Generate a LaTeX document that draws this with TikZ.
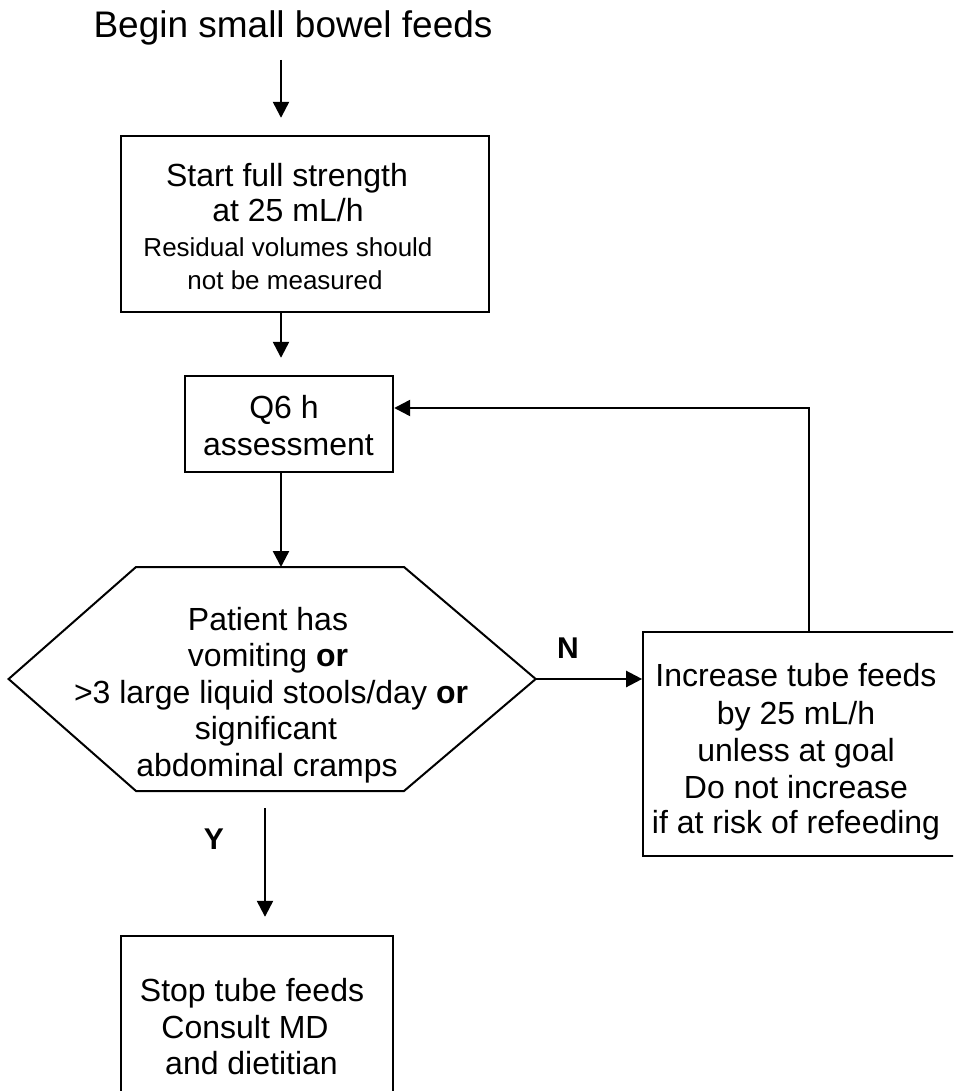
\documentclass[tikz,border=0pt]{standalone}
\usepackage{fontspec}
\setmainfont{Liberation Sans}
\usetikzlibrary{arrows.meta}
\begin{document}
\begin{tikzpicture}[x=1pt,y=-1pt,
  box/.style={draw, line width=2.4pt, inner sep=0pt},
  txt/.style={inner sep=0pt, anchor=base, font=\fontsize{32}{38}\selectfont},
  smalltxt/.style={inner sep=0pt, anchor=base, font=\fontsize{26}{33}\selectfont},
  titletxt/.style={inner sep=0pt, anchor=base, font=\fontsize{37}{43}\selectfont},
  lbl/.style={inner sep=0pt, anchor=base, font=\fontsize{30}{36}\selectfont\bfseries},
  arr/.style={line width=2.4pt, -{Triangle[width=16pt,length=16pt]}},
]
\useasboundingbox (0,0) rectangle (953,1091);
\clip (0,0) rectangle (953,1091);

% title
\node[titletxt] (title) at (293,38) {Begin small bowel feeds};

% boxes
\node[box, minimum width=368pt, minimum height=176pt] (box1) at (305,224) {};
\node[box, minimum width=208pt, minimum height=96pt] (q6) at (289,424) {};
\node[box, line width=1.7pt, minimum width=322pt, minimum height=224pt] (rbox) at (804,744) {};
\node[box, minimum width=272pt, minimum height=174pt] (bbox) at (257,1023) {};

% hexagon
\coordinate (hL) at (8.6,679);
\coordinate (hTL) at (136,567);
\coordinate (hTR) at (404,567);
\coordinate (hR) at (535.7,679);
\coordinate (hBR) at (404,791);
\coordinate (hBL) at (136,791);
\draw[line width=2pt, line join=miter] (hL) -- (hTL) -- (hTR) -- (hR) -- (hBR) -- (hBL) -- cycle;

% texts
\node[txt] (t1a) at (287,187) {Start full strength};
\node[txt] (t1b) at (288,222) {at 25 mL/h};
\node[smalltxt] (t1c) at (288,256) {Residual volumes should};
\node[smalltxt] (t1d) at (285,289) {not be measured};

\node[txt] (q6a) at (284,418) {Q6 h};
\node[txt] (q6b) at (288.5,455) {assessment};

\node[txt] (h1) at (268,630) {Patient has};
\node[txt] (h2) at (268,666.5) {vomiting \textbf{or}};
\node[txt] (h3) at (271,703) {>3 large liquid stools/day \textbf{or}};
\node[txt] (h4) at (266,739.5) {significant};
\node[txt] (h5) at (267,776) {abdominal cramps};

\node[txt] (r1) at (796,686) {Increase tube feeds};
\node[txt] (r2) at (796,724) {by 25 mL/h};
\node[txt] (r3) at (796,761) {unless at goal};
\node[txt] (r4) at (796,798) {Do not increase};
\node[txt] (r5) at (796,833) {if at risk of refeeding};

\node[txt] (b1) at (252,1001) {Stop tube feeds};
\node[txt] (b2) at (245,1038) {Consult MD};
\node[txt] (b3) at (251.5,1074) {and dietitian};

\node[lbl] (nlbl) at (568,658) {N};
\node[lbl] (ylbl) at (214,849) {Y};

% connectors
\coordinate (s1) at (281,60);
\coordinate (fb) at (809,408);
\coordinate (ys) at (265,808);
\draw[arr, shorten >=17pt] (s1) -- (s1 |- box1.north);
\draw[arr, shorten >=17pt] (s1 |- box1.south) -- (s1 |- q6.north);
\draw[arr] (s1 |- q6.south) -- (s1 |- hTL);
\draw[arr] (hR) -- (rbox.west |- hR);
\draw[arr] (fb |- rbox.north) -- (fb) -- (q6.east |- fb);
\draw[arr, shorten >=18pt] (ys) -- (ys |- bbox.north);
\end{tikzpicture}
\end{document}
